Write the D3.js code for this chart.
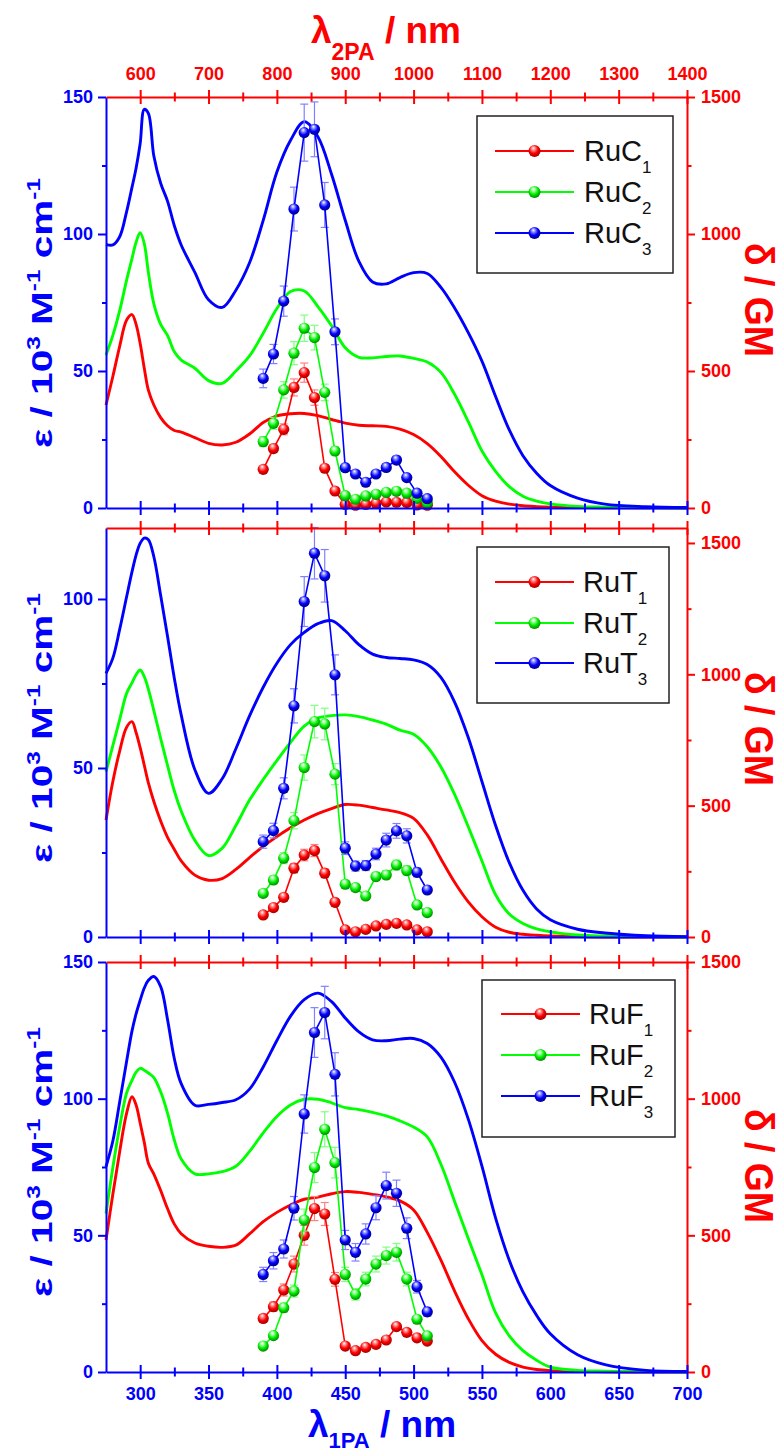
<!DOCTYPE html>
<html><head><meta charset="utf-8">
<script src="https://cdn.jsdelivr.net/npm/d3@7"></script>
<style>body{margin:0;background:#fff}svg{display:block}</style>
</head><body>
<svg id="chart" width="780" height="1456"></svg>
<script>
// ---------- data ----------
const wavelength1PA = [275, 280, 285, 290, 294, 297, 300, 303, 306, 310, 315, 320, 325, 330, 340, 350, 360, 370, 380, 390, 400, 410, 420, 430, 440, 450, 460, 470, 480, 490, 500, 510, 520, 530, 540, 550, 560, 570, 580, 590, 600, 620, 640, 670, 700];

const RuC1_abs = [37.6, 48, 59, 68.5, 70.6, 67, 60, 51, 43, 37.6, 33, 30, 28.3, 27.7, 25.7, 23.6, 23, 24, 27, 31.2, 33.6, 34.4, 34.5, 33.7, 32.3, 31, 30.2, 30, 29.8, 28.8, 26.8, 23.5, 18.8, 13.2, 8.3, 4.5, 2.5, 1.4, 0.8, 0.5, 0.3, 0.15, 0.1, 0.05, 0];
const RuC2_abs = [55.8, 63, 72, 83, 91, 97, 100.5, 96.5, 86, 74.5, 67, 63, 57, 54, 51, 46.5, 45.5, 50, 55.5, 63.8, 72.8, 79, 79.2, 73.5, 66.5, 58.5, 55, 54.8, 55.3, 55.5, 54.6, 53.3, 49.5, 41.5, 31.5, 20.8, 13.4, 7.8, 4.3, 2.5, 1.5, 0.6, 0.3, 0.1, 0];
const RuC3_abs = [96.2, 96, 99, 108, 117, 124, 133, 145.5, 144, 128.5, 118.5, 112, 103, 96, 86, 76, 73.2, 79.5, 89.5, 105, 122.6, 134.2, 141, 135.5, 121.8, 105, 90, 82.5, 81.8, 84.1, 85.9, 85.6, 80.5, 73, 64, 53.6, 40.7, 28.5, 19.1, 12.7, 8.2, 3.6, 1.4, 0.5, 0.2];

const RuT1_abs = [34.6, 46, 55, 62, 63.7, 60.5, 56, 50.8, 45.6, 40.1, 34.3, 29.5, 25.9, 22.5, 18.3, 16.8, 17.3, 20, 23.5, 26.8, 29.7, 32.3, 34.6, 36.5, 38, 39.2, 39, 38.3, 37.6, 36.8, 35.1, 30.2, 23.1, 16.2, 10.4, 6, 2.9, 1.4, 0.8, 0.5, 0.3, 0.1, 0, 0, 0];
const RuT2_abs = [48.9, 56.6, 64.3, 72, 75.2, 77.6, 79, 77, 73.3, 67, 58.7, 50.8, 43.2, 37.3, 28.6, 24.1, 26.3, 33, 40.5, 46.6, 52.2, 57.6, 62.4, 64.8, 65.5, 65.7, 65.2, 64.2, 63, 61.2, 60, 56.3, 50.3, 42.2, 32.6, 22.5, 12.5, 6.8, 4, 2.4, 1.5, 0.6, 0.3, 0.1, 0];
const RuT3_abs = [78, 82.5, 91, 100.5, 108, 113, 116.5, 118, 117.5, 112.5, 101, 89, 76.5, 65.7, 49.5, 42.5, 46.8, 55.7, 65.4, 73.9, 81, 86.5, 90.1, 92.7, 93.6, 90.6, 86.5, 83.7, 82.7, 82.4, 82, 80.6, 76.8, 69.5, 59, 46, 33, 22, 13.8, 8.3, 5.1, 2.3, 1.2, 0.35, 0.1];

const RuF1_abs = [48.3, 65, 80.6, 94.5, 100.7, 97.7, 91.1, 84, 76.4, 72.4, 66.4, 59.8, 54.1, 50.6, 47.2, 46, 45.6, 46.4, 50.5, 55, 58.4, 61.1, 63.2, 64, 65.2, 66, 65.7, 65, 64.1, 62.6, 59.3, 51.1, 40.9, 29.6, 19.5, 11.5, 6.5, 3.5, 1.8, 0.9, 0.5, 0.2, 0.1, 0, 0];
const RuF2_abs = [58, 74.8, 89.7, 102, 106.7, 109.7, 111.1, 110.4, 109.4, 107.7, 102.5, 94.7, 84.8, 77.9, 72.5, 72.5, 73.3, 75.3, 80.7, 87.5, 93.5, 97.7, 99.8, 99.8, 98.5, 96.7, 96, 95, 93.7, 91.9, 89.6, 86, 76, 62.4, 48.8, 35.6, 21.6, 13.2, 7.8, 4.3, 1.8, 0.6, 0.3, 0.1, 0];
const RuF3_abs = [75.1, 84.5, 98.8, 113.4, 124.7, 131, 136, 140.5, 143.3, 144.7, 141, 129, 114.6, 105.5, 97.6, 97.9, 98.6, 99.6, 103.5, 111.6, 121.3, 130.2, 136.2, 138.6, 135.5, 129.5, 124.4, 121.5, 121.2, 121.8, 122, 120.2, 115.2, 106, 92.5, 75.3, 56.3, 40.9, 29.3, 20.7, 14, 6.3, 2.7, 0.6, 0.2];

const wavelength2PA = [780, 795, 810, 825, 840, 855, 870, 885, 900, 915, 930, 945, 960, 975, 990, 1005, 1020];

const RuC1_gm  = [141, 217, 287, 440, 494, 403, 145, 62, 13, 10, 13, 17, 22, 21, 20, 11, 10];
const RuC1_err = [10, 15, 20, 31, 35, 28, 10, 5, 1, 1, 1, 1, 2, 2, 2, 1, 1];
const RuC2_gm  = [242, 309, 431, 565, 656, 622, 422, 208, 45, 32, 44, 50, 57, 61, 54, 35, 19];
const RuC2_err = [18, 22, 30, 42, 48, 45, 30, 15, 4, 3, 4, 4, 4, 5, 4, 3, 2];
const RuC3_gm  = [473, 562, 755, 1091, 1370, 1382, 1106, 643, 147, 124, 94, 124, 148, 175, 111, 54, 34];
const RuC3_err = [34, 35, 55, 80, 104, 100, 82, 47, 12, 10, 8, 10, 12, 14, 9, 5, 4];

const RuT1_gm  = [84, 112, 151, 262, 312, 329, 243, 132, 27, 20, 29, 42, 48, 52, 46, 27, 20];
const RuT1_err = [6, 8, 11, 18, 22, 23, 17, 9, 2, 2, 2, 3, 3, 4, 3, 2, 2];
const RuT2_gm  = [166, 217, 300, 443, 645, 820, 811, 620, 201, 188, 156, 230, 236, 274, 253, 122, 93];
const RuT2_err = [12, 15, 21, 31, 48, 62, 60, 40, 14, 13, 11, 16, 17, 19, 18, 9, 7];
const RuT3_gm  = [363, 405, 566, 880, 1277, 1461, 1375, 998, 338, 270, 272, 316, 369, 404, 385, 246, 179];
const RuT3_err = [25, 28, 40, 65, 95, 98, 100, 76, 24, 19, 19, 22, 26, 28, 27, 17, 12];

const RuF1_gm  = [196, 239, 300, 395, 500, 598, 578, 339, 95, 78, 90, 101, 117, 166, 145, 125, 113];
const RuF1_err = [14, 17, 22, 29, 36, 44, 42, 25, 7, 6, 7, 7, 8, 12, 11, 9, 8];
const RuF2_gm  = [95, 133, 235, 296, 556, 748, 888, 766, 357, 284, 340, 395, 426, 438, 340, 193, 132];
const RuF2_err = [7, 10, 17, 22, 40, 55, 64, 56, 26, 21, 25, 29, 31, 32, 25, 14, 10];
const RuF3_gm  = [357, 407, 450, 599, 944, 1242, 1315, 1089, 483, 438, 505, 601, 682, 654, 526, 312, 220];
const RuF3_err = [26, 30, 33, 43, 70, 91, 96, 79, 35, 32, 37, 44, 49, 48, 38, 23, 16];

const bottomTicks = [300, 350, 400, 450, 500, 550, 600, 650, 700];
const bottomMinor = [325, 375, 425, 475, 525, 575, 625, 675];
const topTicks = [600, 700, 800, 900, 1000, 1100, 1200, 1300, 1400];
const topMinor = [650, 750, 850, 950, 1050, 1150, 1250, 1350];
const gmTicks = [0, 500, 1000, 1500];
const gmMinor = [250, 750, 1250];
const seriesPrefix = ["RuC", "RuT", "RuF"];
const seriesIndex = ["1", "2", "3"];

// ---------- setup ----------
const FONT = "'Liberation Sans', Arial, Helvetica, sans-serif";
const BLUE = "#0000ff", RED = "#ff0000", GREEN = "#00ff00";
const colors = [RED, GREEN, BLUE];
const errColors = ["#ff8080", "#80ff80", "#8080ff"];
const svg = d3.select("#chart");
svg.append("rect").attr("width", 780).attr("height", 1456).attr("fill", "#fff");

const defs = svg.append("defs");
const gradStops = [
  ["#ffffff", "#ff9090", "#ff0000", "#a00000"],
  ["#ffffff", "#a0ffa0", "#00ee00", "#008800"],
  ["#ffffff", "#9090ff", "#0000ff", "#000080"]
];
gradStops.forEach((s, i) => {
  const g = defs.append("radialGradient").attr("id", "ball" + i)
    .attr("cx", "45%").attr("cy", "40%").attr("r", "60%").attr("fx", "40%").attr("fy", "25%");
  [[0, s[0]], [0.25, s[1]], [0.6, s[2]], [1, s[3]]].forEach(([o, c]) =>
    g.append("stop").attr("offset", o).attr("stop-color", c));
});

const x = d3.scaleLinear().domain([275, 700]).range([106, 687]);
const xTop = d3.scaleLinear().domain([550, 1400]).range([106, 687]);

const panels = [
  { abs: [RuC1_abs, RuC2_abs, RuC3_abs], gm: [RuC1_gm, RuC2_gm, RuC3_gm], err: [RuC1_err, RuC2_err, RuC3_err],
    top: 97, bottom: 508, epsMax: 150, gmMax: 1500, epsTicks: [0, 50, 100, 150], epsMinor: [25, 75, 125],
    topLabels: true, bottomLabels: false, epsY: 313, gmY: 300,
    legend: { x: 477, y: 116, w: 196, h: 157, rows: [151, 192, 233], l0: 495, l1: 574, tx: 584 } },
  { abs: [RuT1_abs, RuT2_abs, RuT3_abs], gm: [RuT1_gm, RuT2_gm, RuT3_gm], err: [RuT1_err, RuT2_err, RuT3_err],
    top: 528, bottom: 937, epsMax: 121, gmMax: 1557, epsTicks: [0, 50, 100], epsMinor: [25, 75],
    topLabels: false, bottomLabels: false, epsY: 728, gmY: 729,
    legend: { x: 477, y: 547, w: 192, h: 156, rows: [582, 623, 663], l0: 495, l1: 574, tx: 583 } },
  { abs: [RuF1_abs, RuF2_abs, RuF3_abs], gm: [RuF1_gm, RuF2_gm, RuF3_gm], err: [RuF1_err, RuF2_err, RuF3_err],
    top: 962, bottom: 1372, epsMax: 150, gmMax: 1500, epsTicks: [0, 50, 100, 150], epsMinor: [25, 75, 125],
    topLabels: false, bottomLabels: true, epsY: 1162, gmY: 1166,
    legend: { x: 482, y: 980, w: 193, h: 157, rows: [1014, 1055, 1096], l0: 501, l1: 580, tx: 589 } }
];

function styleAxis(g, color) {
  g.select(".domain").attr("stroke", color).attr("stroke-width", 2);
  g.selectAll(".tick line").attr("stroke", color).attr("stroke-width", 2);
  g.selectAll(".tick text").attr("fill", color).attr("font-family", FONT)
    .attr("font-weight", "bold").attr("font-size", 18);
}

panels.forEach((p, pi) => {
  const yL = d3.scaleLinear().domain([0, p.epsMax]).range([p.bottom, p.top]);
  const yR = d3.scaleLinear().domain([0, p.gmMax]).range([p.bottom, p.top]);

  // absorption curves
  const line = d3.line().x((d, i) => x(wavelength1PA[i])).y(d => yL(d)).curve(d3.curveCatmullRom.alpha(0.5));
  p.abs.forEach((arr, si) => {
    svg.append("path").attr("d", line(arr)).attr("fill", "none")
      .attr("stroke", colors[si]).attr("stroke-width", 2.9).attr("stroke-linejoin", "round");
  });

  // 2PA points
  p.gm.forEach((arr, si) => {
    const g = svg.append("g");
    const errs = p.err[si];
    wavelength2PA.forEach((l, i) => {
      const cx = xTop(l), y1 = yR(arr[i] - errs[i]), y2 = yR(arr[i] + errs[i]);
      g.append("line").attr("x1", cx).attr("x2", cx).attr("y1", y1).attr("y2", y2)
        .attr("stroke", errColors[si]).attr("stroke-width", 1.2);
      [y1, y2].forEach(yy => g.append("line").attr("x1", cx - 4).attr("x2", cx + 4).attr("y1", yy).attr("y2", yy)
        .attr("stroke", errColors[si]).attr("stroke-width", 1.2));
    });
    const pl = d3.line().x((d, i) => xTop(wavelength2PA[i])).y(d => yR(d));
    g.append("path").attr("d", pl(arr)).attr("fill", "none").attr("stroke", colors[si]).attr("stroke-width", 1.6);
    g.selectAll("circle").data(arr).join("circle")
      .attr("cx", (d, i) => xTop(wavelength2PA[i])).attr("cy", d => yR(d)).attr("r", 5.6)
      .attr("fill", `url(#ball${si})`);
  });

  // axes
  const gl = svg.append("g").attr("transform", `translate(106,0)`)
    .call(d3.axisLeft(yL).tickValues(p.epsTicks).tickSize(8).tickSizeOuter(0).tickPadding(5).tickFormat(d3.format("d")));
  styleAxis(gl, BLUE);
  const glm = svg.append("g").attr("transform", `translate(106,0)`)
    .call(d3.axisLeft(yL).tickValues(p.epsMinor).tickSize(4).tickFormat(""));
  glm.select(".domain").remove(); styleAxis(glm, BLUE);

  const gr = svg.append("g").attr("transform", `translate(687,0)`)
    .call(d3.axisRight(yR).tickValues(gmTicks).tickSize(8).tickSizeOuter(0).tickPadding(6).tickFormat(d3.format("d")));
  styleAxis(gr, RED);
  const grm = svg.append("g").attr("transform", `translate(687,0)`)
    .call(d3.axisRight(yR).tickValues(gmMinor).tickSize(4.5).tickFormat(""));
  grm.select(".domain").remove(); styleAxis(grm, RED);

  const gb = svg.append("g").attr("transform", `translate(0,${p.bottom})`)
    .call(d3.axisBottom(x).tickValues(bottomTicks).tickSize(7).tickSizeOuter(0).tickPadding(8)
      .tickFormat(p.bottomLabels ? d3.format("d") : ""));
  gb.selectAll(".tick line").attr("y1", -7);
  styleAxis(gb, BLUE);
  const gbm = svg.append("g").attr("transform", `translate(0,${p.bottom})`)
    .call(d3.axisBottom(x).tickValues(bottomMinor).tickSize(4.5).tickFormat(""));
  gbm.select(".domain").remove(); gbm.selectAll(".tick line").attr("y1", -4.5); styleAxis(gbm, BLUE);

  const gt = svg.append("g").attr("transform", `translate(0,${p.top})`)
    .call(d3.axisTop(xTop).tickValues(topTicks).tickSize(7).tickSizeOuter(0).tickPadding(10)
      .tickFormat(p.topLabels ? d3.format("d") : ""));
  gt.selectAll(".tick line").attr("y1", 7);
  styleAxis(gt, RED);
  const gtm = svg.append("g").attr("transform", `translate(0,${p.top})`)
    .call(d3.axisTop(xTop).tickValues(topMinor).tickSize(4.5).tickFormat(""));
  gtm.select(".domain").remove(); gtm.selectAll(".tick line").attr("y1", 4.5); styleAxis(gtm, RED);

  // epsilon label
  const ge = svg.append("g");
  const te = ge.append("text").attr("text-anchor", "middle").attr("font-family", FONT)
    .attr("font-weight", "bold").attr("font-size", 30).attr("fill", BLUE);
  te.append("tspan").text("ε / 10");
  te.append("tspan").attr("dy", -12).attr("font-size", 18).text("3");
  te.append("tspan").attr("dy", 12).text(" M");
  te.append("tspan").attr("dy", -12).attr("font-size", 18).text("-1");
  te.append("tspan").attr("dy", 12).text(" cm");
  te.append("tspan").attr("dy", -12).attr("font-size", 18).text("-1");
  const we = te.node().getBBox().width;
  ge.attr("transform", `translate(52,${p.epsY}) rotate(-90) scale(${270 / we},1)`);

  // delta label
  const gd = svg.append("g");
  const td = gd.append("text").attr("text-anchor", "middle").attr("font-family", FONT)
    .attr("font-weight", "bold").attr("font-size", 40).attr("fill", RED).text("δ / GM");
  const wd = td.node().getBBox().width;
  gd.attr("transform", `translate(745,${p.gmY}) rotate(90) scale(${114 / wd},1)`);

  // legend
  const L = p.legend;
  svg.append("rect").attr("x", L.x).attr("y", L.y).attr("width", L.w).attr("height", L.h)
    .attr("fill", "#fff").attr("stroke", "#222").attr("stroke-width", 1.5);
  seriesIndex.forEach((s, si) => {
    const ry = L.rows[si];
    svg.append("line").attr("x1", L.l0).attr("x2", L.l1).attr("y1", ry).attr("y2", ry)
      .attr("stroke", colors[si]).attr("stroke-width", 2);
    svg.append("circle").attr("cx", (L.l0 + L.l1) / 2).attr("cy", ry).attr("r", 6).attr("fill", `url(#ball${si})`);
    const t = svg.append("text").attr("x", L.tx).attr("y", ry + 10).attr("font-family", FONT)
      .attr("font-size", 29).attr("fill", "#111");
    t.append("tspan").text(seriesPrefix[pi]);
    t.append("tspan").attr("dy", 12).attr("font-size", 17).text(s);
  });
});

// titles
const tt = svg.append("text").attr("x", 311).attr("y", 43).attr("font-family", FONT)
  .attr("font-weight", "bold").attr("font-size", 37).attr("fill", RED);
tt.append("tspan").text("λ");
tt.append("tspan").attr("dy", 17).attr("font-size", 23).text("2PA");
tt.append("tspan").attr("dy", -17).text(" / nm");

const tb = svg.append("text").attr("x", 308).attr("y", 1437).attr("font-family", FONT)
  .attr("font-weight", "bold").attr("font-size", 37).attr("fill", BLUE);
tb.append("tspan").text("λ");
tb.append("tspan").attr("dy", 11).attr("font-size", 22).text("1PA");
tb.append("tspan").attr("dy", -11).text(" / nm");
</script>
</body></html>
